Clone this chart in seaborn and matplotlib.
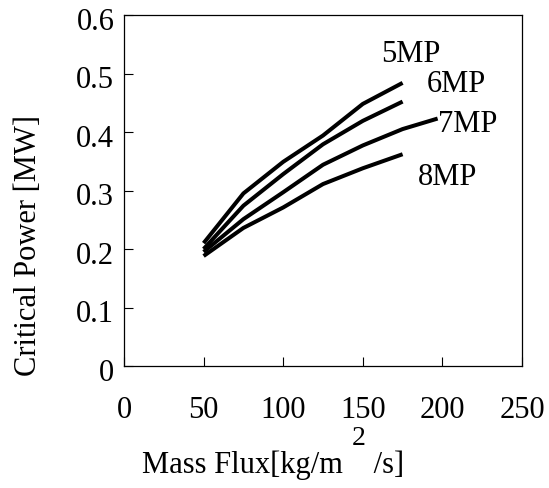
import numpy as np
import pandas as pd
import matplotlib
matplotlib.use("Agg")
import matplotlib.pyplot as plt
import matplotlib.transforms as mtransforms
import seaborn as sns
from matplotlib.ticker import FuncFormatter

# Critical power vs. mass flux for four pressure cases
flux_5mp = [50, 75, 100, 125, 150, 175]
power_5mp = [0.210, 0.295, 0.349, 0.394, 0.448, 0.484]

flux_6mp = [50, 75, 100, 125, 150, 175]
power_6mp = [0.200, 0.274, 0.328, 0.379, 0.419, 0.452]

flux_7mp = [50, 75, 100, 125, 150, 175, 197]
power_7mp = [0.195, 0.251, 0.297, 0.344, 0.377, 0.405, 0.423]

flux_8mp = [50, 75, 100, 125, 150, 175]
power_8mp = [0.188, 0.236, 0.271, 0.311, 0.338, 0.362]

series_names = ["5MP", "6MP", "7MP", "8MP"]
label_pos = {"5MP": (161.4, 0.521), "6MP": (190.3, 0.470),
             "7MP": (197.2, 0.402), "8MP": (184.7, 0.311)}

x_ticks = [0, 50, 100, 150, 200, 250]
y_ticks = [0, 0.1, 0.2, 0.3, 0.4, 0.5, 0.6]

frames = []
for name, xs, ys in zip(series_names,
                        [flux_5mp, flux_6mp, flux_7mp, flux_8mp],
                        [power_5mp, power_6mp, power_7mp, power_8mp]):
    frames.append(pd.DataFrame({"flux": xs, "power": ys, "case": name}))
df = pd.concat(frames, ignore_index=True)

sns.set_theme(style="ticks")
plt.rcParams["font.family"] = ["Liberation Serif", "DejaVu Serif"]
plt.rcParams["axes.linewidth"] = 0.9

fig = plt.figure(figsize=(5.49, 4.89), dpi=100)
ax = fig.add_axes([124 / 549, 1 - 367 / 489, (522 - 124) / 549, (367 - 16) / 489])

sns.lineplot(data=df, x="flux", y="power", hue="case", units="case",
             estimator=None, sort=True, palette=["black"] * 4,
             linewidth=2.9, legend=False, ax=ax)
for ln in ax.get_lines():
    ln.set_solid_joinstyle("round")
    ln.set_solid_capstyle("butt")

ax.set_xlim(0, 250)
ax.set_ylim(0, 0.6)
ax.set_xticks(x_ticks)
ax.set_yticks(y_ticks)
ax.xaxis.set_major_formatter(FuncFormatter(lambda v, p: f"{v:g}"))
ax.yaxis.set_major_formatter(FuncFormatter(lambda v, p: f"{v:g}"))
ax.tick_params(axis="both", direction="in", length=6.5, width=0.8,
               labelsize=22, colors="black")
ax.tick_params(axis="x", pad=21)
ax.tick_params(axis="y", pad=7)
for s in ax.spines.values():
    s.set_visible(True)
    s.set_color("black")

# y tick labels sit slightly below their ticks
shift = mtransforms.ScaledTranslation(0, -3 / 100, fig.dpi_scale_trans)
for tk in ax.yaxis.get_major_ticks():
    tk.label1.set_transform(tk.label1.get_transform() + shift)

ax.set_xlabel("")
ax.set_ylabel("")

for name in series_names:
    lx, ly = label_pos[name]
    ax.text(lx, ly, name, fontsize=22, ha="left", va="baseline", color="black")

# Axis titles
fig.text(28 / 549, 1 - 246 / 489, "Critical Power [MW]", rotation=90,
         fontsize=22, ha="center", va="center", color="black")
t1 = fig.text(142 / 549, 1 - 473 / 489, "Mass Flux[kg/m ", fontsize=22,
              ha="left", va="baseline", color="black")
t2 = ax.annotate("2", xy=(1, 0), xycoords=t1, xytext=(1, 21),
                 textcoords="offset points", fontsize=20, ha="left",
                 va="bottom", color="black", annotation_clip=False)
t3 = ax.annotate(" /s]", xy=(1, 0), xycoords=t2, xytext=(0, -21),
                 textcoords="offset points", fontsize=22, ha="left",
                 va="bottom", color="black", annotation_clip=False)

fig.savefig("out.png", dpi=100, facecolor="white")
